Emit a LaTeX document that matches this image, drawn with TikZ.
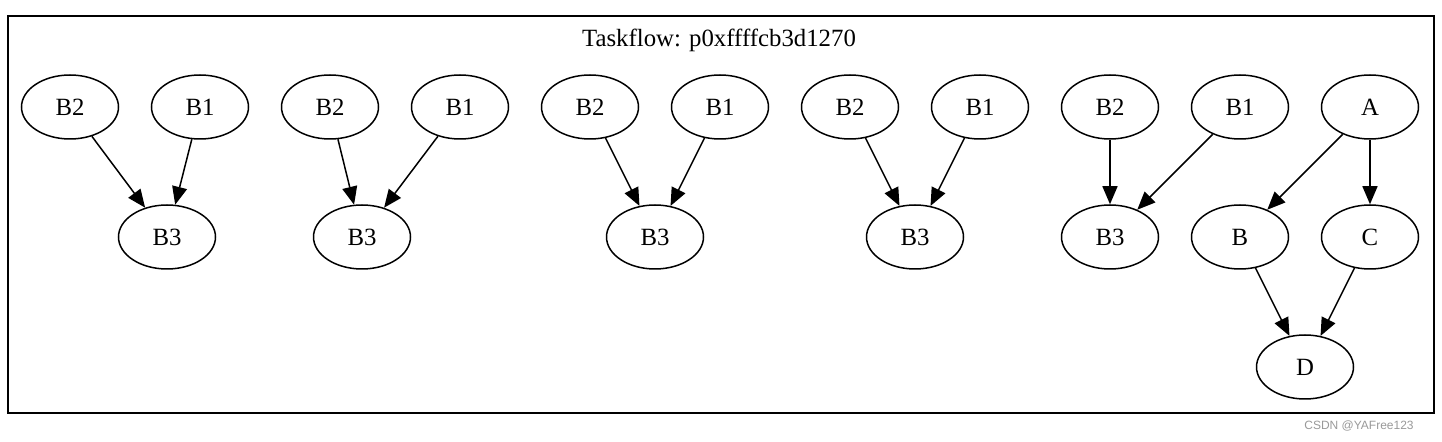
\documentclass[tikz,border=0pt]{standalone}
\usepackage{fontspec}
\setmainfont{Liberation Serif}
\newfontfamily\creditfont{Liberation Sans}
\usepackage{tikz}
\usetikzlibrary{shapes.geometric, arrows.meta}
\tikzset{>={Triangle[length=9pt, width=7.5pt]}}
\tikzset{task/.style={ellipse, draw, inner sep=0pt, minimum width=48.5pt, minimum height=32pt, font=\fontsize{12.4}{14}\selectfont}}

\begin{document}
\begin{tikzpicture}[x=0.5pt, y=-0.5pt, line width=0.75pt]
    \useasboundingbox (0,0) rectangle (1442,442);

    % Frame
    \draw (8,16) rectangle (1434,413);
    % Text
    \node[font=\fontsize{12.4}{14}\selectfont] (title) at (719,40) {Taskflow: p0xffffcb3d1270};

    % First pair
    \node[task] (a2) at (70,107) {B2};
    \node[task] (a1) at (200,107) {B1};
    \node[task] (a3) at (167,237) {B3};

    % Second pair
    \node[task] (b2) at (330,107) {B2};
    \node[task] (b1) at (460,107) {B1};
    \node[task] (b3) at (362,237) {B3};

    % Third pair
    \node[task] (c2) at (590,107) {B2};
    \node[task] (c1) at (720,107) {B1};
    \node[task] (c3) at (655,237) {B3};

    % Fourth pair
    \node[task] (d2) at (850,107) {B2};
    \node[task] (d1) at (980,107) {B1};
    \node[task] (d3) at (915,237) {B3};

    % Fifth pair
    \node[task] (e2) at (1110,107) {B2};
    \node[task] (e1) at (1240,107) {B1};
    \node[task] (e3) at (1110,237) {B3};

    % Diamond
    \node[task] (A) at (1370,107) {A};
    \node[task] (B) at (1240,237) {B};
    \node[task] (C) at (1370,237) {C};
    \node[task] (D) at (1305,367) {D};

    % Lines
    \draw[->] (a2) -- (a3);
    \draw[->] (a1) -- (a3);
    \draw[->] (b2) -- (b3);
    \draw[->] (b1) -- (b3);
    \draw[->] (c2) -- (c3);
    \draw[->] (c1) -- (c3);
    \draw[->] (d2) -- (d3);
    \draw[->] (d1) -- (d3);
    \draw[->] (e2) -- (e3);
    \draw[->] (e1) -- (e3);
    \draw[->] (A) -- (B);
    \draw[->] (A) -- (C);
    \draw[->] (B) -- (D);
    \draw[->] (C) -- (D);

    % Watermark
    \node[text=black!40, font=\creditfont\fontsize{6}{8}\selectfont] (credit) at (1359,426) {CSDN @YAFree123};
\end{tikzpicture}
\end{document}
